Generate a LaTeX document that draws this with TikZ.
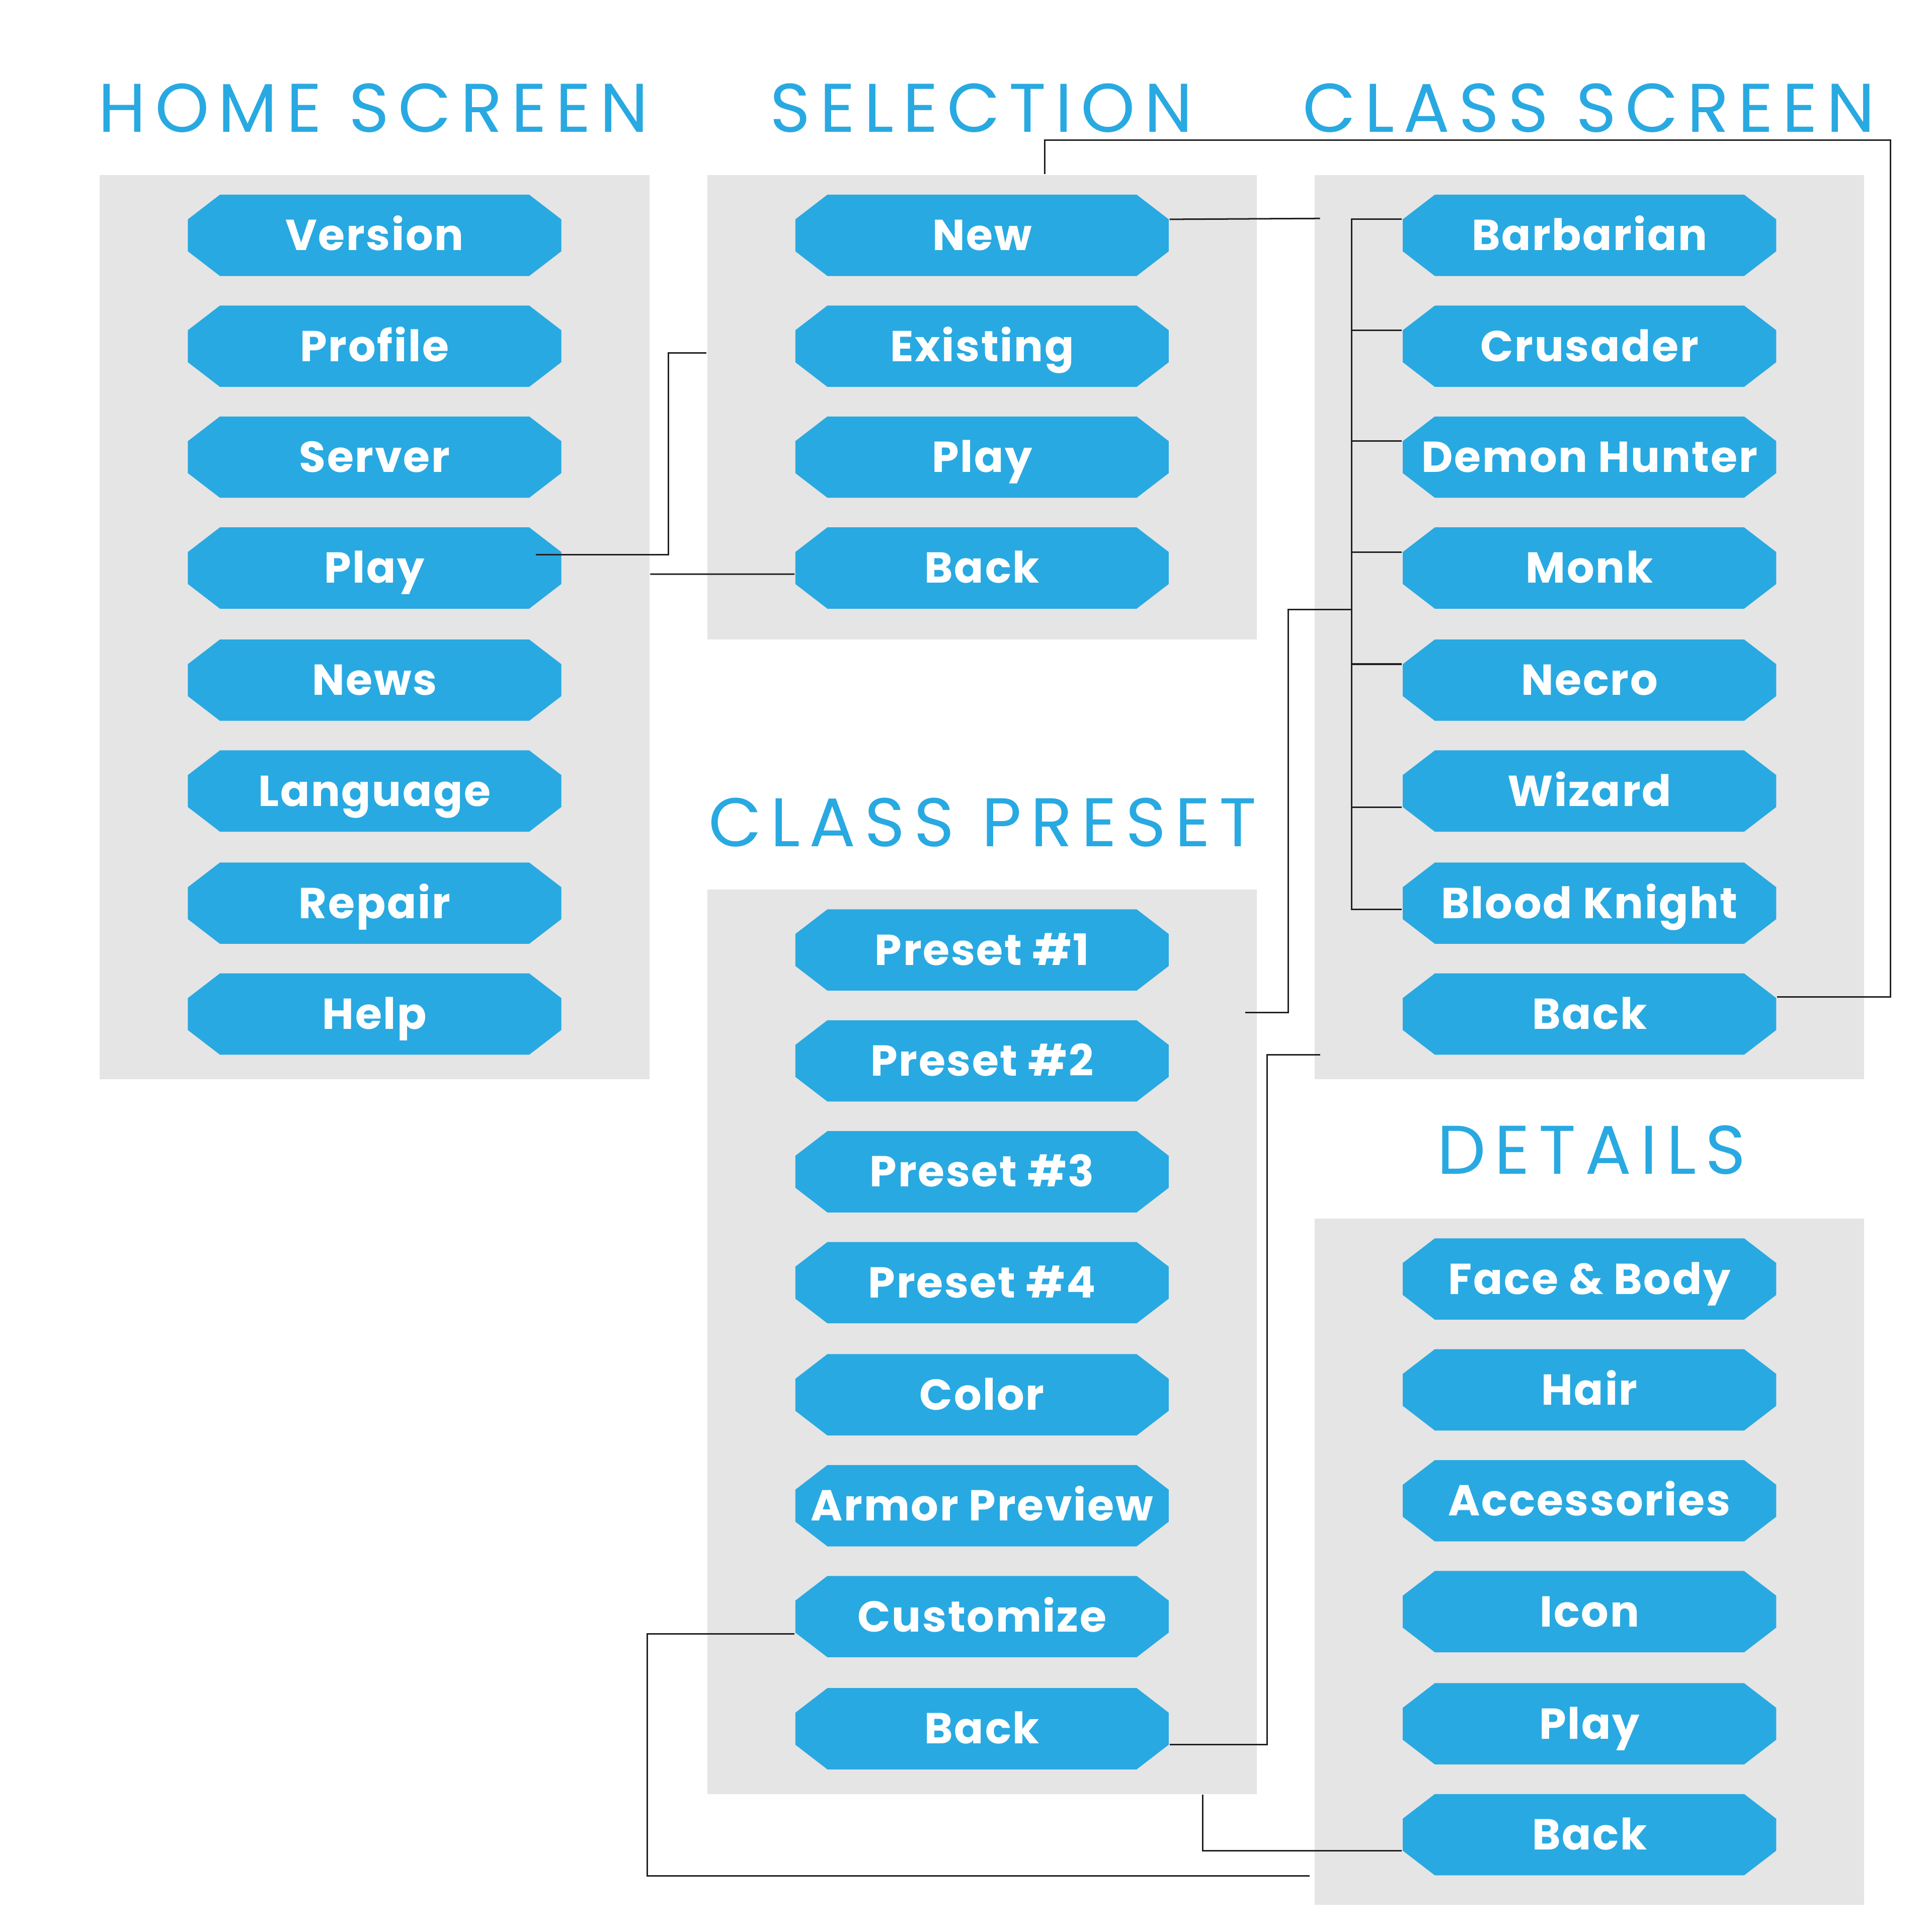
\documentclass[tikz,border=0pt]{standalone}
\usepackage{fontspec}
\setmainfont{Poppins}
\newfontfamily\titlefont[LetterSpace=13]{Poppins}
\newfontfamily\btnfont[LetterSpace=3]{Poppins}
\usetikzlibrary{calc, positioning}
\definecolor{btnblue}{RGB}{41,169,225}
\definecolor{panelgray}{RGB}{229,229,229}
\definecolor{wire}{RGB}{35,31,32}

\begin{document}
\begin{tikzpicture}[panel/.style={fill=panelgray, inner sep=0pt, minimum width=4.46cm},
  btn/.style={rectangle, text=white, font=\btnfont\fontsize{10}{12}\selectfont\bfseries, minimum width=3.03cm, minimum height=0.66cm, inner sep=0pt, text height=0.245cm, text depth=0pt,
    path picture={\fill[btnblue] ($(path picture bounding box.west)+(0,0.13)$) -- ($(path picture bounding box.north west)+(0.26,0)$)
      -- ($(path picture bounding box.north east)+(-0.26,0)$) -- ($(path picture bounding box.east)+(0,0.13)$)
      -- ($(path picture bounding box.east)+(0,-0.13)$) -- ($(path picture bounding box.south east)+(-0.26,0)$)
      -- ($(path picture bounding box.south west)+(0.26,0)$) -- ($(path picture bounding box.west)+(0,-0.13)$) -- cycle;}},
  ttl/.style={text=btnblue, font=\titlefont\fontsize{15.9}{18}\selectfont, anchor=base, inner sep=0pt},
  link/.style={draw=wire, line width=0.35pt}]
\useasboundingbox (0,0) rectangle (15.68,-15.68);

% panels
\node[panel, minimum height=7.34cm] (home) at (3.04,-5.09) {};
\node[panel, minimum height=3.77cm] (sel) at (7.97,-3.305) {};
\node[panel, minimum height=7.34cm] (cls) at (12.90,-5.09) {};
\node[panel, minimum height=7.34cm] (pre) at (7.97,-10.89) {};
\node[panel, minimum height=5.57cm] (det) at (12.90,-12.675) {};

% titles
\node[ttl] (tHome) at (3.03,-1.07) {HOME SCREEN};
\node[ttl] (tSel) at (7.965,-1.07) {SELECTION};
\node[ttl] (tCls) at (12.895,-1.07) {CLASS SCREEN};
\node[ttl] (tPre) at (7.975,-6.87) {CLASS PRESET};
\node[ttl] (tDet) at (12.915,-9.53) {DETAILS};

% home screen
\node[btn] (hVer) at (3.04,-1.91) {Version};
\node[btn] (hProf) at (3.04,-2.81) {Profile};
\node[btn] (hServ) at (3.04,-3.71) {Server};
\node[btn] (hPlay) at (3.04,-4.61) {Play};
\node[btn] (hNews) at (3.04,-5.52) {News};
\node[btn] (hLang) at (3.04,-6.42) {Language};
\node[btn] (hRep) at (3.04,-7.33) {Repair};
\node[btn] (hHelp) at (3.04,-8.23) {Help};

% selection
\node[btn] (sNew) at (7.97,-1.91) {New};
\node[btn] (sExist) at (7.97,-2.81) {Existing};
\node[btn] (sPlay) at (7.97,-3.71) {Play};
\node[btn] (sBack) at (7.97,-4.61) {Back};

% class screen
\node[btn] (cBarb) at (12.90,-1.91) {Barbarian};
\node[btn] (cCru) at (12.90,-2.81) {Crusader};
\node[btn] (cDem) at (12.90,-3.71) {Demon Hunter};
\node[btn] (cMonk) at (12.90,-4.61) {Monk};
\node[btn] (cNec) at (12.90,-5.52) {Necro};
\node[btn] (cWiz) at (12.90,-6.42) {Wizard};
\node[btn] (cBlood) at (12.90,-7.33) {Blood Knight};
\node[btn] (cBack) at (12.90,-8.23) {Back};

% class preset
\node[btn] (pOne) at (7.97,-7.71) {Preset \#1};
\node[btn] (pTwo) at (7.97,-8.61) {Preset \#2};
\node[btn] (pThree) at (7.97,-9.51) {Preset \#3};
\node[btn] (pFour) at (7.97,-10.41) {Preset \#4};
\node[btn] (pCol) at (7.97,-11.32) {Color};
\node[btn] (pArm) at (7.97,-12.22) {Armor Preview};
\node[btn] (pCust) at (7.97,-13.12) {Customize};
\node[btn] (pBack) at (7.97,-14.03) {Back};

% details
\node[btn] (dFace) at (12.90,-10.38) {Face \& Body};
\node[btn] (dHair) at (12.90,-11.28) {Hair};
\node[btn] (dAcc) at (12.90,-12.18) {Accessories};
\node[btn] (dIcon) at (12.90,-13.08) {Icon};
\node[btn] (dPlay) at (12.90,-13.99) {Play};
\node[btn] (dBack) at (12.90,-14.89) {Back};

% links
\coordinate (bus) at ($(cBarb.west)+(-0.41,0.13)$);
\draw[link] ($(hPlay.east)+(-0.215,0.11)$) -| ($(sel.north west)+(-0.31,-1.45)$) -- ($(sel.north west)+(0,-1.45)$);
\draw[link] ($(sBack.west)+(0,-0.05)$) -- ($(home.east)+(0,0.43)$);
\draw[link] ($(sNew.east)+(0,0.13)$) -- ($(cls.north west)+(0.05,-0.36)$);
\draw[link] ($(sel.north)+(0.51,0)$) |- ($(cls.north east)+(0.205,0.275)$) |- ($(cBack.east)+(0,0.14)$);
\draw[link] ($(cBarb.west)+(0,0.13)$) -- (bus) |- ($(cBlood.west)+(0,-0.05)$);
\draw[link] ($(cCru.west)+(0,0.13)$) -- ($(bus |- cCru.west)+(0,0.13)$);
\draw[link] ($(cDem.west)+(0,0.13)$) -- ($(bus |- cDem.west)+(0,0.13)$);
\draw[link] ($(cMonk.west)+(0,0.13)$) -- ($(bus |- cMonk.west)+(0,0.13)$);
\draw[link] ($(cNec.west)+(0,0.13)$) -- ($(bus |- cNec.west)+(0,0.13)$);
\draw[link] ($(cWiz.west)+(0,-0.13)$) -- ($(bus |- cWiz.west)+(0,-0.13)$);
\draw[link] ($(pre.north east)+(-0.10,-1.005)$) -| ($(bus)+(-0.512,-3.165)$) -- ($(bus)+(0,-3.165)$);
\draw[link] ($(pBack.east)+(0,-0.13)$) -| ($(cls.south west)+(-0.38,0.205)$) -- ($(cls.south west)+(0.05,0.205)$);
\draw[link] ($(dBack.west)+(0,-0.13)$) -| ($(pre.south)+(1.79,0)$);
\draw[link] ($(pCust.west)+(0,-0.14)$) -| ($(det.south west)+(-5.41,0.244)$) -- ($(det.south west)+(-0.036,0.244)$);
\end{tikzpicture}
\end{document}
